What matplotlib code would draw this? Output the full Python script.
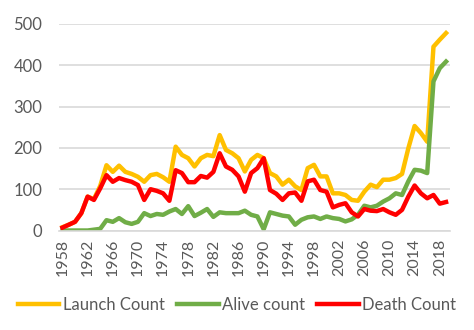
import matplotlib
matplotlib.use('Agg')
import matplotlib.pyplot as plt

plt.rcParams['font.family'] = ['Lato', 'DejaVu Sans']

years = list(range(1958, 2020))

launch = [8, 14, 21, 42, 82, 76, 108, 158, 142, 157, 142, 137, 130, 118, 134, 137, 129, 118,
          203, 183, 175, 155, 175, 183, 180, 231, 195, 187, 175, 143, 171, 183, 175, 139,
          131, 111, 123, 107, 98, 151, 159, 131, 131, 90, 90, 86, 74, 72, 94, 111, 105,
          123, 123, 127, 137, 199, 253, 236, 215, 445, 462, 478]

alive = [0, 0, 0, 0, 0, 2, 4, 25, 21, 30, 20, 16, 21, 42, 35, 40, 38, 46,
         52, 40, 59, 35, 43, 52, 33, 44, 42, 42, 42, 48, 38, 34, 3, 44,
         40, 36, 34, 14, 26, 32, 34, 28, 34, 30, 28, 22, 27, 38, 60, 56, 60,
         70, 78, 90, 86, 119, 147, 145, 139, 361, 393, 409]

death = [7, 14, 21, 42, 82, 74, 102, 134, 118, 127, 122, 118, 110, 74, 100, 96, 90, 72,
         146, 139, 117, 117, 132, 128, 142, 187, 155, 147, 131, 94, 139, 151, 175, 98,
         89, 74, 90, 92, 72, 119, 123, 98, 94, 56, 62, 66, 44, 34, 52, 48, 47,
         52, 44, 38, 50, 82, 109, 90, 78, 86, 65, 69]

fig = plt.figure(figsize=(4.74, 3.30), dpi=100)
ax = fig.add_axes([0.1245, 0.3015, 0.8245, 0.6258])

ax.plot(years, launch, color='#FFC000', lw=3.2, label='Launch Count', solid_joinstyle='round')
ax.plot(years, alive, color='#70AD47', lw=3.2, label='Alive count', solid_joinstyle='round')
ax.plot(years, death, color='#FF0000', lw=3.2, label='Death Count', solid_joinstyle='round')

ax.set_ylim(0, 500)
ax.set_xlim(1957.45, 2019.6)
ax.set_yticks(range(0, 501, 100))
ax.set_xticks(range(1958, 2020, 4))
ax.tick_params(axis='x', labelrotation=90, length=0, labelsize=11.5, colors='#595959', pad=6)
ax.tick_params(axis='y', length=0, labelsize=12, colors='#595959', pad=12)
ax.grid(axis='y', color='#D9D9D9', lw=1.2)
ax.set_axisbelow(True)
for s in ['top', 'right', 'left']:
    ax.spines[s].set_visible(False)
ax.spines['bottom'].set_color('#D9D9D9')
ax.spines['bottom'].set_linewidth(1.2)

fig.legend(loc='center', bbox_to_anchor=(0.5, 0.075), ncol=3, frameon=False,
           fontsize=12, handlelength=2.5, handletextpad=0.2, columnspacing=0.75,
           labelcolor='#595959')

fig.savefig('out.png', dpi=100)
